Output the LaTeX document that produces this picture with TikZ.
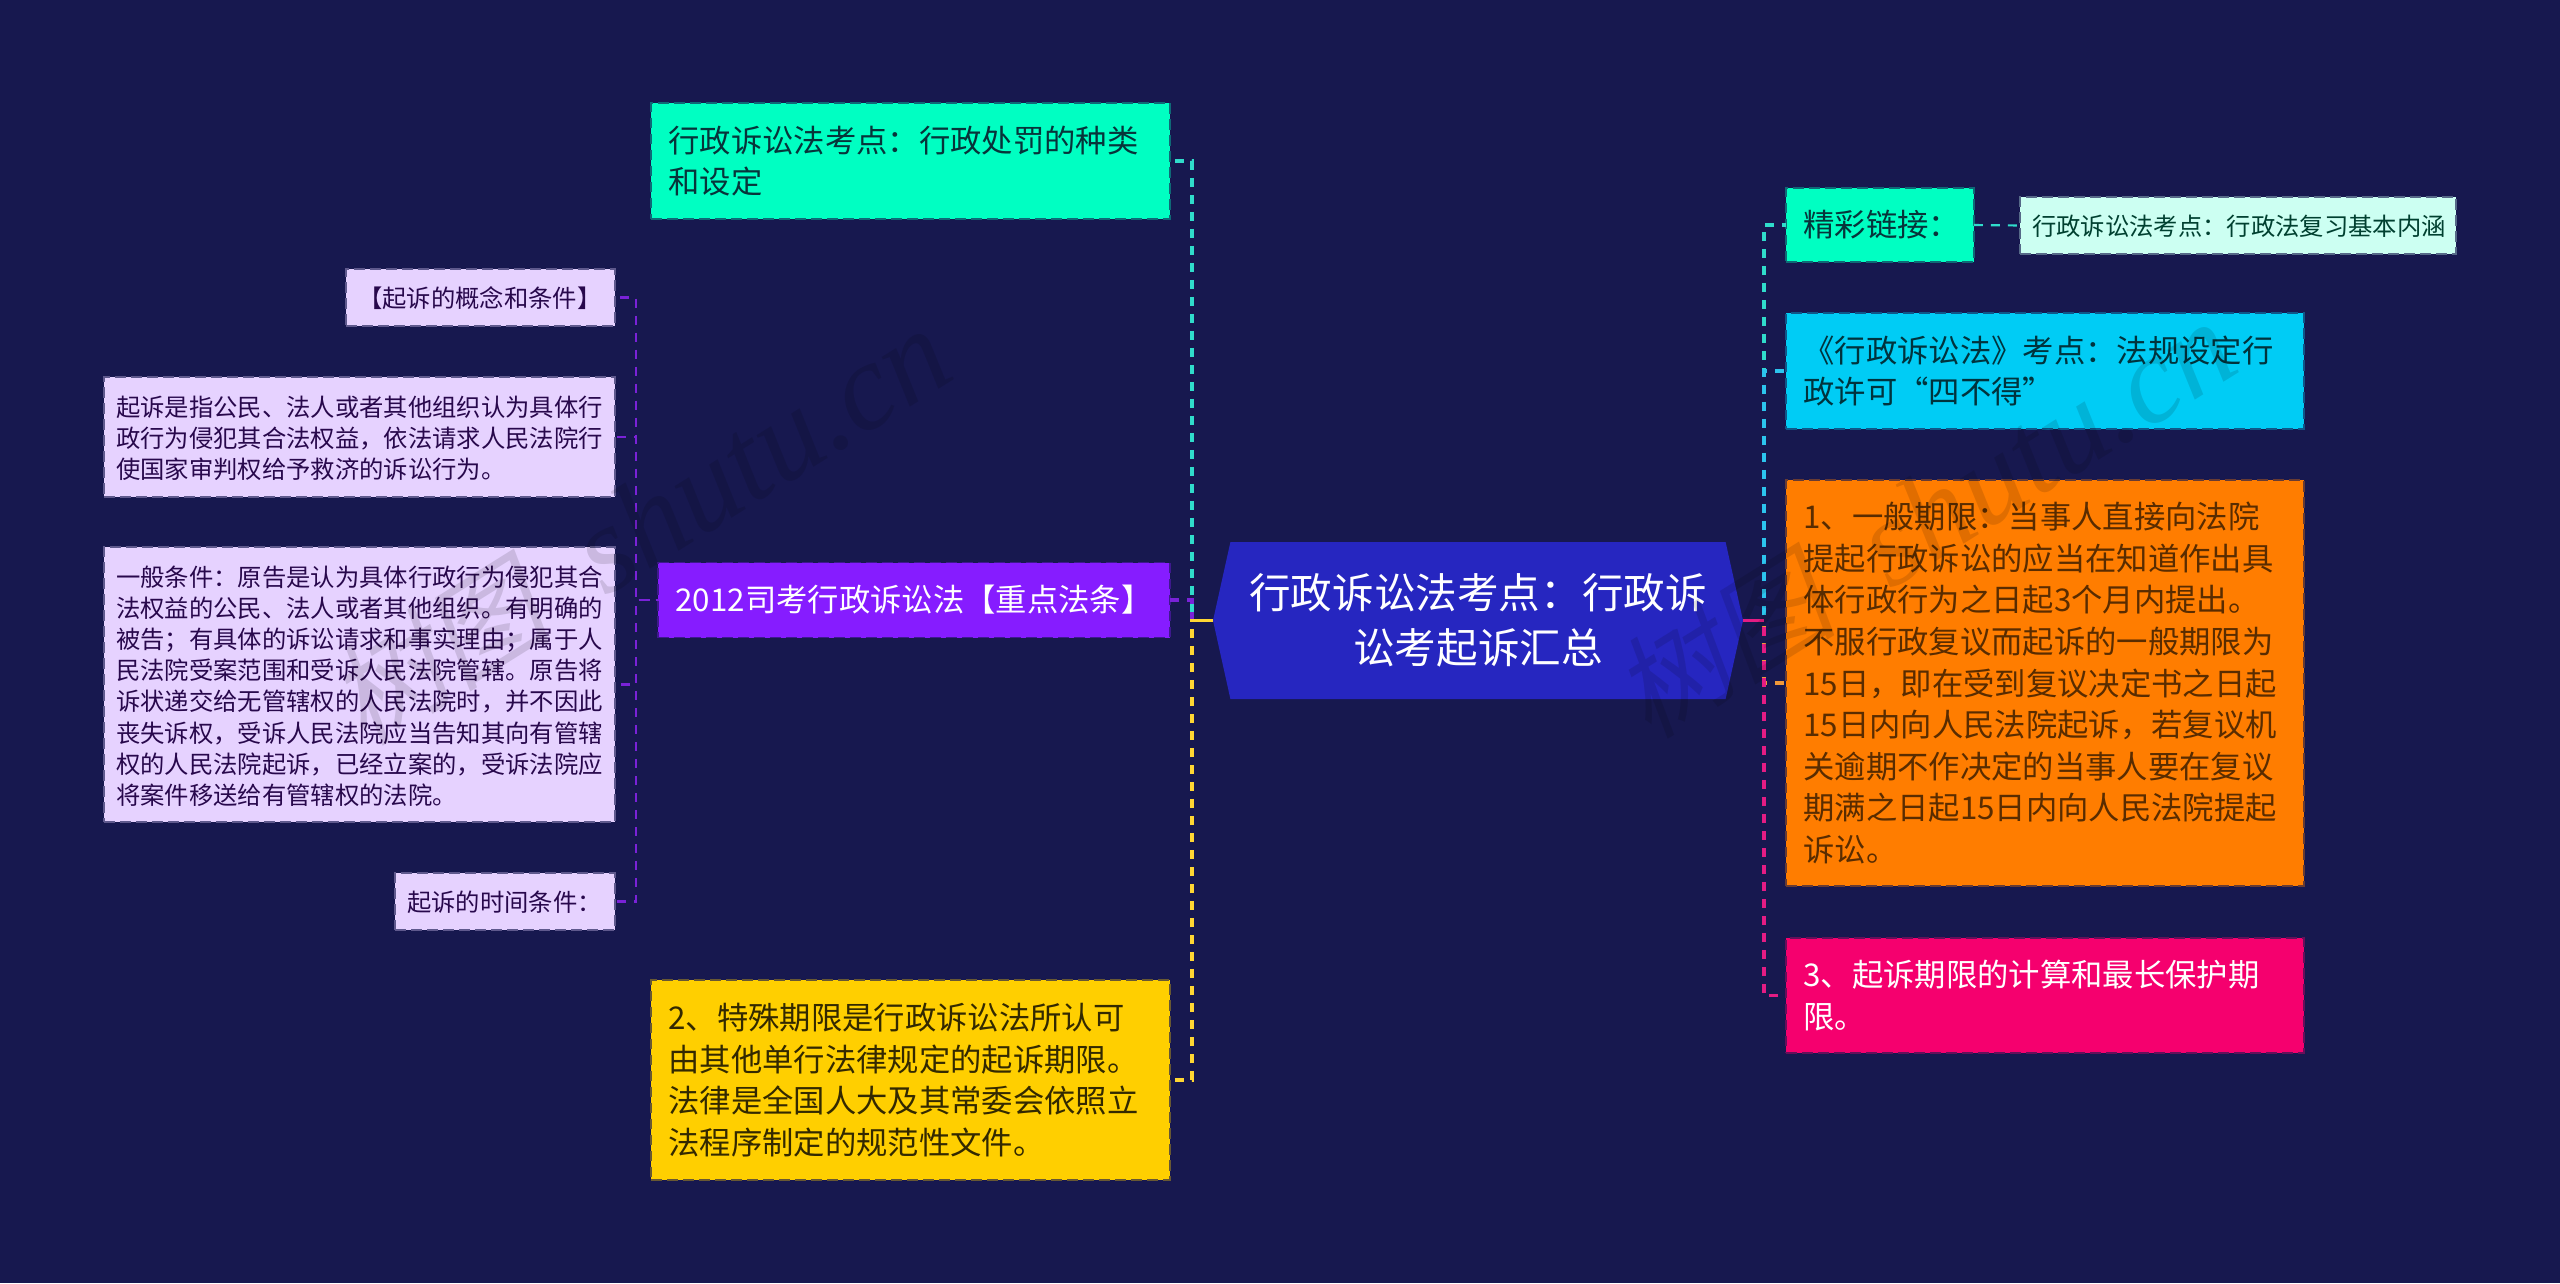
\documentclass[tikz,border=0pt]{standalone}
\usepackage{fontspec}
\setmainfont{Noto Sans CJK SC}
\newfontfamily\wmlatin{Liberation Serif}
\usetikzlibrary{shapes.symbols}
\definecolor{bgc}{HTML}{17184F}
\definecolor{cteal}{HTML}{00FFC2}
\definecolor{cmint}{HTML}{CCFFF2}
\definecolor{ccyan}{HTML}{00CCF5}
\definecolor{corange}{HTML}{FF7D00}
\definecolor{cpink}{HTML}{F5006E}
\definecolor{cyellow}{HTML}{FFCF00}
\definecolor{cviolet}{HTML}{861CFF}
\definecolor{clilac}{HTML}{E6D2FF}
\definecolor{chex}{HTML}{2626C0}
\definecolor{lteal}{HTML}{30DCCB}
\definecolor{lcyan}{HTML}{2CC4EE}
\definecolor{lorange}{HTML}{F0983A}
\definecolor{lpink}{HTML}{E41C84}
\definecolor{lyellow}{HTML}{FFD633}
\definecolor{lviolet}{HTML}{7A22D8}
\tikzset{
  big/.style={font=\fontsize{23.5pt}{31.2pt}\selectfont},
  small/.style={font=\fontsize{18.25pt}{23.4pt}\selectfont},
  boxbase/.style={rectangle,align=left,inner ysep=0pt,outer sep=0pt,line width=1.2pt,dash pattern=on 8pt off 4pt},
  main/.style args={#1/#2/#3/#4}{boxbase,big,fill=#1,draw=#1!35!bgc,text=#2,text width=#3*0.75pt,minimum height=#4*0.75pt,inner xsep=13pt},
  leaf/.style args={#1/#2/#3/#4}{boxbase,small,fill=#1,draw=#1!35!bgc,text=#2,text width=#3*0.75pt,minimum height=#4*0.75pt,inner xsep=9pt,execute at end node={\par\vspace*{-2.4pt}}},
  conn/.style args={#1/#2}{draw=#1,line width=2.8pt,dash pattern=on 6.75pt off 6pt,dash phase=#2*0.75pt},
  thinconn/.style args={#1/#2}{draw=#1,line width=1.6pt,dash pattern=on 6.75pt off 6pt,dash phase=#2*0.75pt},
  link/.style={draw=#1,line width=2.8pt},
  wmark/.style={rotate=32,text=black,text opacity=0.12,inner sep=0pt,font=\fontsize{84pt}{84pt}\selectfont}
}
\begin{document}
\begin{tikzpicture}[x=0.75pt,y=-0.75pt]
\useasboundingbox (0,0) rectangle (2560,1283);
\fill[bgc] (0,0) rectangle (2560,1283);

% buses
\coordinate (lbus) at (1192,0);
\coordinate (rbus) at (1764,0);
\coordinate (sbus) at (636,0);

% centre
\node[shape=signal,signal to=west and east,signal pointer angle=155,fill=chex,inner sep=0pt,outer sep=0pt,
  minimum width=530*0.75pt,minimum height=157*0.75pt,text=white,align=center,
  font=\fontsize{31.2pt}{41.3pt}\selectfont] (hexc) at (1478,620.5) {行政诉讼法考点：行政诉\\讼考起诉汇总};

% left main
\node[main=cteal/{black!75!cteal!70!bgc}/484/116] (g1) at (910.5,161) {行政诉讼法考点：行政处罚的种类\\和设定};
\node[main=cviolet/white/477/75] (pl) at (914,600) {2012司考行政诉讼法【重点法条】};
\node[main=cyellow/{black!80!cyellow}/484/200] (ye) at (910.5,1080) {2、特殊期限是行政诉讼法所认可\\由其他单行法律规定的起诉期限。\\法律是全国人大及其常委会依照立\\法程序制定的规范性文件。};

% left leaves
\node[leaf=clilac/{black!70!cviolet}/245/57] (t1) at (480.5,297.5) {【起诉的概念和条件】};
\node[leaf=clilac/{black!70!cviolet}/487/120] (t2) at (359.5,437) {起诉是指公民、法人或者其他组织认为具体行\\政行为侵犯其合法权益，依法请求人民法院行\\使国家审判权给予救济的诉讼行为。};
\node[leaf=clilac/{black!70!cviolet}/487/275] (t3) at (359.5,684.5) {一般条件：原告是认为具体行政行为侵犯其合\\法权益的公民、法人或者其他组织。有明确的\\被告；有具体的诉讼请求和事实理由；属于人\\民法院受案范围和受诉人民法院管辖。原告将\\诉状递交给无管辖权的人民法院时，并不因此\\丧失诉权，受诉人民法院应当告知其向有管辖\\权的人民法院起诉，已经立案的，受诉法院应\\将案件移送给有管辖权的法院。};
\node[leaf=clilac/{black!70!cviolet}/196/57] (t4) at (505,901.5) {起诉的时间条件：};

% right main
\node[main=cteal/{black!75!cteal!70!bgc}/153/74] (g2) at (1880,225) {精彩链接：};
\node[leaf=cmint/{black!75!cteal}/412/57] (rl) at (2238,225.5) {行政诉讼法考点：行政法复习基本内涵};
\node[main=ccyan/{black!75!ccyan}/483/116] (cy) at (2045,371) {《行政诉讼法》考点：法规设定行\\政许可“四不得”};
\node[main=corange/{black!65!corange}/483/406] (or) at (2045,683) {1、一般期限：当事人直接向法院\\提起行政诉讼的应当在知道作出具\\体行政行为之日起3个月内提出。\\不服行政复议而起诉的一般期限为\\15日，即在受到复议决定书之日起\\15日内向人民法院起诉，若复议机\\关逾期不作决定的当事人要在复议\\期满之日起15日内向人民法院提起\\诉讼。};
\node[main=cpink/white/483/115] (pk) at (2045,995.5) {3、起诉期限的计算和最长保护期\\限。};

% connectors, left of centre
\draw[conn=lteal/12] (g1.east) -- (lbus |- g1.east) -- (lbus |- hexc.west) -- (hexc.west);
\draw[conn=lviolet/0] (pl.east) -- (lbus |- pl.east) -- (lbus |- hexc.west) -- (hexc.west);
\draw[conn=lyellow/12] (ye.east) -- (lbus |- ye.east) -- (lbus |- hexc.west) -- (hexc.west);
\draw[link=lyellow] (lbus |- hexc.west) -- (hexc.west);

% connectors, right of centre
\draw[conn=lteal/5] (g2.west) -- (rbus |- g2.west) -- (rbus |- hexc.east) -- (hexc.east);
\draw[conn=lcyan/15] (cy.west) -- (rbus |- cy.west) -- (rbus |- hexc.east) -- (hexc.east);
\draw[conn=lorange/15] (or.west) -- (rbus |- or.west) -- (rbus |- hexc.east) -- (hexc.east);
\draw[conn=lpink/9] (pk.west) -- (rbus |- pk.west) -- (rbus |- hexc.east) -- (hexc.east);
\draw[link=lpink] (rbus |- hexc.east) -- (hexc.east);
\draw[thinconn=lteal/0] (g2.east) -- (rl.west);

% connectors, second level
\draw[thinconn=lviolet/12] (t1.east) -- (sbus |- t1.east) -- (sbus |- pl.west) -- (pl.west);
\draw[thinconn=lviolet/15] (t2.east) -- (sbus |- t2.east) -- (sbus |- pl.west) -- (pl.west);
\draw[thinconn=lviolet/11] (t3.east) -- (sbus |- t3.east) -- (sbus |- pl.west) -- (pl.west);
\draw[thinconn=lviolet/15] (t4.east) -- (sbus |- t4.east) -- (sbus |- pl.west) -- (pl.west);

% watermarks
\node[wmark] (wm1) at (665,510) {\addfontfeatures{FakeSlant=0.2}树图\hspace*{45pt}{\wmlatin\itshape\fontsize{93pt}{93pt}\selectfont shutu.cn}\hspace*{45pt}};
\node[wmark] (wm2) at (1950,503) {\addfontfeatures{FakeSlant=0.2}树图\hspace*{45pt}{\wmlatin\itshape\fontsize{93pt}{93pt}\selectfont shutu.cn}\hspace*{45pt}};
\end{tikzpicture}
\end{document}
